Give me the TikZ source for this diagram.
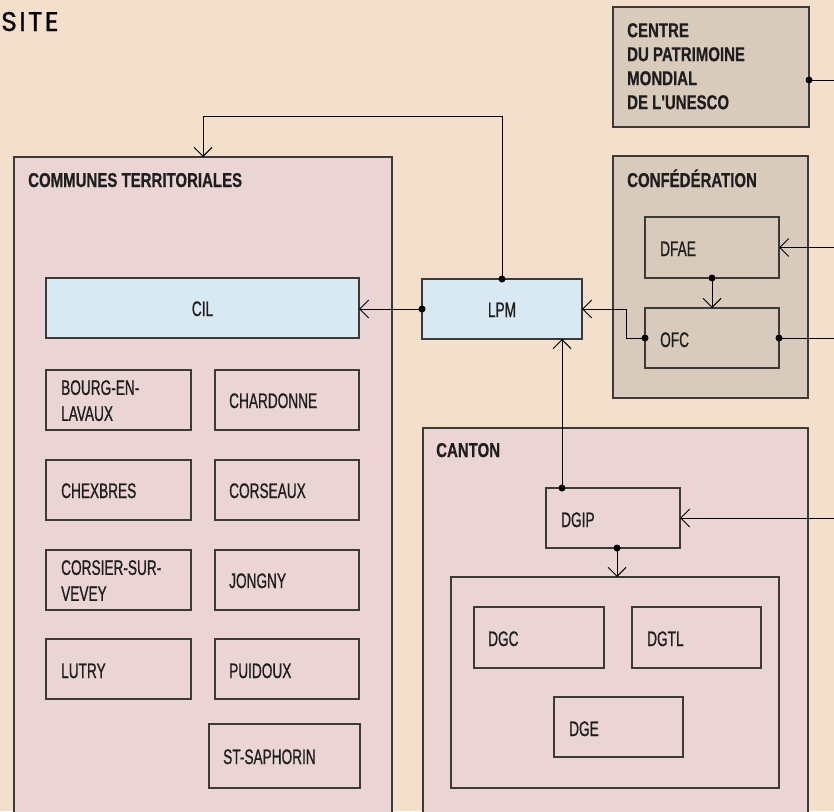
\documentclass[tikz,border=0pt]{standalone}
\usepackage{fontspec}
\setmainfont{Liberation Sans}
\newfontfamily\labfont{Liberation Sans}[FakeStretch=0.65,FakeBold=0.8]
\newfontfamily\titfont{Liberation Sans}[FakeStretch=0.75,FakeBold=0.5]
\newfontfamily\sitefont{Poppins}[LetterSpace=8,FakeBold=0.6]
\usetikzlibrary{arrows.meta,calc}
\definecolor{bgc}{RGB}{244,223,203}
\definecolor{pinkc}{RGB}{234,213,212}
\definecolor{taupec}{RGB}{216,203,187}
\definecolor{bluec}{RGB}{216,233,243}
\definecolor{bordc}{RGB}{60,58,56}
\definecolor{txtc}{RGB}{30,30,30}
\tikzset{
  frame/.style={draw=bordc, line width=1.3pt, anchor=north west, inner sep=0pt, outer sep=0pt},
  lab/.style={font=\labfont\fontsize{21}{26}\selectfont, inner sep=0pt, text=txtc, align=left},
  tit/.style={font=\titfont\bfseries\fontsize{20}{24}\selectfont, inner sep=0pt, text=txtc, align=left},
  conn/.style={draw=black, line width=1pt},
  arr/.style={conn, -{Straight Barb[length=9pt,width=18pt]}},
  dotr/.style={fill=black}
}
\begin{document}
\begin{tikzpicture}[x=1pt,y=-1pt]
\useasboundingbox (0,0) rectangle (834,811);
\fill[bgc] (0,0) rectangle (834,811);

% frames
\node[frame, fill=taupec, minimum width=196pt, minimum height=120pt] (unesco) at (613,7) {};
\node[frame, fill=taupec, minimum width=195pt, minimum height=242pt] (conf) at (613,156) {};
\node[frame, fill=taupec, minimum width=134pt, minimum height=61pt] (dfae) at (645,217) {};
\node[frame, fill=taupec, minimum width=134pt, minimum height=60pt] (ofc) at (645,308) {};
\node[frame, fill=bluec, minimum width=160pt, minimum height=60pt] (lpm) at (422,279) {};
\node[frame, fill=pinkc, minimum width=378pt, minimum height=700pt] (communes) at (14,157) {};
\node[frame, fill=bluec, minimum width=313pt, minimum height=60pt] (cil) at (46,278) {};
\node[frame, fill=pinkc, minimum width=145pt, minimum height=60pt] (bourg) at (46,370) {};
\node[frame, fill=pinkc, minimum width=144pt, minimum height=60pt] (chardonne) at (215,370) {};
\node[frame, fill=pinkc, minimum width=145pt, minimum height=60pt] (chexbres) at (46,460) {};
\node[frame, fill=pinkc, minimum width=144pt, minimum height=60pt] (corseaux) at (215,460) {};
\node[frame, fill=pinkc, minimum width=145pt, minimum height=60pt] (corsier) at (46,550) {};
\node[frame, fill=pinkc, minimum width=144pt, minimum height=60pt] (jongny) at (215,550) {};
\node[frame, fill=pinkc, minimum width=145pt, minimum height=60pt] (lutry) at (46,639) {};
\node[frame, fill=pinkc, minimum width=144pt, minimum height=60pt] (puidoux) at (215,639) {};
\node[frame, fill=pinkc, minimum width=151pt, minimum height=64pt] (stsaph) at (209,724) {};
\node[frame, fill=pinkc, minimum width=385pt, minimum height=500pt] (canton) at (423,428) {};
\node[frame, fill=pinkc, minimum width=134pt, minimum height=60pt] (dgip) at (546,488) {};
\node[frame, fill=pinkc, minimum width=328pt, minimum height=211pt] (dgbox) at (451,577) {};
\node[frame, fill=pinkc, minimum width=130pt, minimum height=61pt] (dgc) at (474,607) {};
\node[frame, fill=pinkc, minimum width=129pt, minimum height=61pt] (dgtl) at (632,607) {};
\node[frame, fill=pinkc, minimum width=129pt, minimum height=60pt] (dge) at (554,697) {};

% free ends
\coordinate (uout) at (834,80);
\coordinate (dfin) at (834,247.5);
\coordinate (ofcout) at (834,338);
\coordinate (dgin) at (834,518);

% connectors
\draw[conn] (unesco.east |- uout) -- (uout);
\fill[dotr] (unesco.east |- uout) circle (3.5pt);
\draw[arr] (dfin) -- (dfae.east);
\draw[arr] (dfae.south) -- (ofc.north);
\fill[dotr] (dfae.south) circle (3.5pt);
\draw[conn] (ofc.east) -- (ofcout);
\fill[dotr] (ofc.east) circle (3.5pt);
\draw[arr] (ofc.west) -- ++(-19,0) |- (lpm.east);
\fill[dotr] (ofc.west) circle (3.5pt);
\draw[arr] (lpm.west) -- (cil.east |- lpm.west);
\fill[dotr] (lpm.west) circle (3.5pt);
\draw[arr] (lpm.north) -- ++(0,-163) -| (communes.north);
\fill[dotr] (lpm.north) circle (3.5pt);
\coordinate (dgtop) at ($(dgip.north west)+(16,0)$);
\draw[arr] (dgtop) -- (dgtop |- lpm.south);
\fill[dotr] (dgtop) circle (3.5pt);
\draw[arr] (dgin) -- (dgip.east);
\coordinate (dgbot) at ($(dgip.south)+(4,0)$);
\draw[arr] (dgbot) -- (dgbot |- dgbox.north);
\fill[dotr] (dgbot) circle (3.5pt);

% titles
\node[font=\sitefont\fontsize{27}{30}\selectfont, anchor=base west, inner sep=0pt, text=black] (site) at (1,31) {SITE};
\node[tit, anchor=north west] (tunesco) at (627,23) {CENTRE\\DU PATRIMOINE\\MONDIAL\\DE L'UNESCO};
\node[tit, anchor=base west] (tconf) at (627,187) {CONFÉDÉRATION};
\node[tit, anchor=base west] (tcomm) at (28,187) {COMMUNES TERRITORIALES};
\node[tit, anchor=base west] (tcanton) at (436,457) {CANTON};

% labels
\node[lab, anchor=base] (lcil) at (202.5,316) {CIL};
\node[lab, anchor=base] (llpm) at (502,317) {LPM};
\node[lab, anchor=base west] (ldfae) at (660,256) {DFAE};
\node[lab, anchor=base west] (lofc) at (660,347) {OFC};
\node[lab, anchor=north west] (lbourg) at (61,380) {BOURG-EN-\\LAVAUX};
\node[lab, anchor=base west] (lchardonne) at (229,408) {CHARDONNE};
\node[lab, anchor=base west] (lchexbres) at (61,498) {CHEXBRES};
\node[lab, anchor=base west] (lcorseaux) at (229,498) {CORSEAUX};
\node[lab, anchor=north west] (lcorsier) at (61,560) {CORSIER-SUR-\\VEVEY};
\node[lab, anchor=base west] (ljongny) at (229,588) {JONGNY};
\node[lab, anchor=base west] (llutry) at (61,678) {LUTRY};
\node[lab, anchor=base west] (lpuidoux) at (229,678) {PUIDOUX};
\node[lab, anchor=base west] (lstsaph) at (223,764) {ST-SAPHORIN};
\node[lab, anchor=base west] (ldgip) at (561,527) {DGIP};
\node[lab, anchor=base west] (ldgc) at (488,646) {DGC};
\node[lab, anchor=base west] (ldgtl) at (647,646) {DGTL};
\node[lab, anchor=base west] (ldge) at (569,736) {DGE};
\end{tikzpicture}
\end{document}
